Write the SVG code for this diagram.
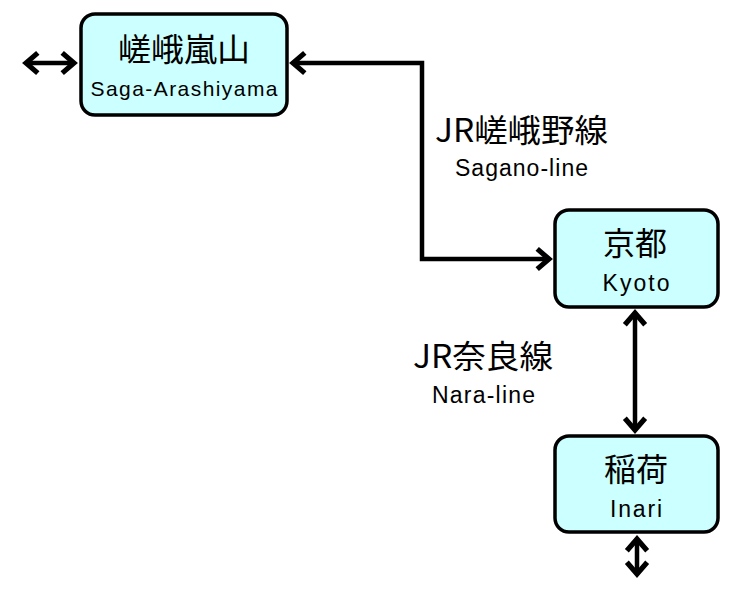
<svg xmlns="http://www.w3.org/2000/svg" width="742" height="600" viewBox="0 0 742 600">
<style>
.box{fill:#ccffff;stroke:#000;stroke-width:3.5}
.jp{font-family:"Noto Sans CJK JP","Noto Sans CJK SC",sans-serif;font-size:32px;fill:#000;text-anchor:middle;dominant-baseline:central}
.en{font-family:"Liberation Sans",Arial,sans-serif;font-size:23px;fill:#000;text-anchor:middle;dominant-baseline:central}
.lbl{font-family:"Noto Sans CJK JP","Noto Sans CJK SC",sans-serif;font-size:32px;fill:#000;dominant-baseline:central}
.lblen{font-family:"Liberation Sans",Arial,sans-serif;font-size:23px;fill:#000;dominant-baseline:central}
.conn{fill:none;stroke:#000;stroke-width:4.5}
</style>
<defs>
<marker id="arr" markerUnits="userSpaceOnUse" markerWidth="30" markerHeight="30" viewBox="-16 -14 20 28" refX="0" refY="0" orient="auto-start-reverse" overflow="visible">
<path d="M-11,-9.5 L0,0 L-11,9.5" fill="none" stroke="#000" stroke-width="4.8" stroke-linejoin="miter"/>
</marker>
</defs>
<rect width="742" height="600" fill="#fff"/>
<g id="connectors">
<line class="conn" x1="26" y1="63" x2="74" y2="63" marker-start="url(#arr)" marker-end="url(#arr)"/>
<polyline class="conn" points="293,63 422,63 422,259 549,259" marker-start="url(#arr)" marker-end="url(#arr)"/>
<line class="conn" x1="635" y1="313" x2="635" y2="430" marker-start="url(#arr)" marker-end="url(#arr)"/>
<line class="conn" x1="637" y1="539" x2="637" y2="574" marker-start="url(#arr)" marker-end="url(#arr)"/>
</g>
<g id="saga-arashiyama">
<rect class="box" x="81" y="14" width="206" height="101" rx="14"/>
<text class="jp" x="184" y="47" textLength="132" lengthAdjust="spacingAndGlyphs">嵯峨嵐山</text>
<text class="en" x="184" y="88" style="font-size:21px" textLength="187" lengthAdjust="spacing">Saga-Arashiyama</text>
</g>
<g id="kyoto">
<rect class="box" x="555" y="210" width="163" height="97" rx="14"/>
<text class="jp" x="635" y="241">京都</text>
<text class="en" x="636" y="283" textLength="67" lengthAdjust="spacing">Kyoto</text>
</g>
<g id="inari">
<rect class="box" x="555" y="436" width="163" height="96" rx="14"/>
<text class="jp" x="636" y="467">稲荷</text>
<text class="en" x="636" y="509" textLength="52" lengthAdjust="spacing">Inari</text>
</g>
<g id="sagano-label">
<text class="lbl" x="435" y="128" textLength="173" lengthAdjust="spacingAndGlyphs">JR嵯峨野線</text>
<text class="lblen" x="455" y="168" textLength="133" lengthAdjust="spacing">Sagano-line</text>
</g>
<g id="nara-label">
<text class="lbl" x="413" y="354" textLength="140" lengthAdjust="spacingAndGlyphs">JR奈良線</text>
<text class="lblen" x="432" y="395" textLength="103" lengthAdjust="spacing">Nara-line</text>
</g>
</svg>
